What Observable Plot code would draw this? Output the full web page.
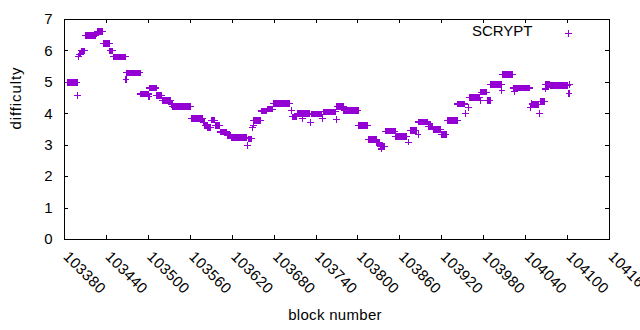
<!DOCTYPE html>
<html><head><meta charset="utf-8">
<script src="https://cdn.jsdelivr.net/npm/d3@7"></script>
<script src="https://cdn.jsdelivr.net/npm/@observablehq/plot@0.6"></script>
<style>body{margin:0;background:#fff}</style>
</head><body><div id="chart"></div>
<script>
// Runs of constant difficulty: first block, last block, difficulty value
const blockStart = [103385,103399,103400,103401,103404,103410,103425,103427,103436,103445,103450,103468,103469,103489,103501,103502,103512,103520,103533,103535,103562,103579,103581,103585,103590,103596,103603,103613,103619,103642,103643,103649,103650,103651,103662,103670,103679,103705,103706,103713,103721,103732,103734,103749,103751,103769,103770,103780,103801,103815,103827,103832,103834,103839,103854,103872,103875,103886,103887,103901,103908,103919,103928,103943,103954,103958,103960,103975,103976,103985,103990,104006,104007,104022,104024,104047,104049,104050,104060,104062,104068,104068,104075,104102,104103];
const blockEnd   = [103398,103399,103400,103403,103409,103424,103426,103435,103444,103449,103467,103468,103488,103500,103501,103511,103519,103532,103534,103560,103578,103580,103584,103589,103595,103602,103612,103618,103641,103642,103648,103649,103650,103661,103669,103678,103702,103705,103712,103731,103721,103732,103748,103749,103768,103769,103779,103800,103814,103826,103831,103838,103834,103853,103870,103872,103883,103886,103900,103907,103918,103926,103942,103953,103954,103958,103974,103975,103984,103989,104005,104006,104021,104046,104024,104047,104049,104059,104060,104067,104074,104068,104100,104102,104103];
const difficulty = [5.0,4.57,5.82,5.9,6.0,6.48,6.54,6.61,6.23,6.0,5.81,5.1,5.3,4.63,4.55,4.82,4.58,4.42,4.3,4.22,3.86,3.73,3.62,3.56,3.8,3.62,3.42,3.32,3.24,2.98,3.2,3.55,3.64,3.78,4.09,4.15,4.33,4.1,3.9,4.02,3.84,3.73,3.99,3.85,4.06,3.81,4.22,4.1,3.62,3.17,3.08,2.96,2.88,3.45,3.27,3.1,3.46,3.34,3.74,3.6,3.5,3.33,3.78,4.31,4.02,4.19,4.51,4.42,4.69,4.42,4.93,4.73,5.25,4.82,4.72,4.19,4.32,4.3,4.0,4.38,4.94,4.79,4.89,4.64,4.93];

const xTicks = [103380,103440,103500,103560,103620,103680,103740,103800,103860,103920,103980,104040,104100,104160];
const yTicks = [0,1,2,3,4,5,6,7];
const seriesName = "SCRYPT";
const xLabel = "block number";
const yLabel = "difficulty";

const points = [];
blockStart.forEach((s, i) => {
  for (let b = s; b <= blockEnd[i]; b++) points.push({block: b, difficulty: difficulty[i]});
});

const color = "#9400d3";
const font = "'Liberation Sans', Arial, sans-serif";

const chart = Plot.plot({
  width: 640, height: 330,
  marginLeft: 64, marginRight: 31, marginTop: 19, marginBottom: 91,
  style: {fontFamily: font, fontSize: "15px", background: "#fff", color: "#000"},
  x: {domain: [103380, 104160], axis: null},
  y: {domain: [0, 7], axis: null},
  marks: [
    Plot.ruleX(xTicks, {x: d => d, insetTop: 216, stroke: "#000", shapeRendering: "crispEdges"}),
    Plot.ruleX(xTicks, {x: d => d, insetBottom: 216, stroke: "#000", shapeRendering: "crispEdges"}),
    Plot.ruleY(yTicks, {y: d => d, insetRight: 541, stroke: "#000", shapeRendering: "crispEdges"}),
    Plot.ruleY(yTicks, {y: d => d, insetLeft: 541, stroke: "#000", shapeRendering: "crispEdges"}),
    Plot.dot(points, {x: "block", y: "difficulty", symbol: "plus", r: 2.33, stroke: color, fill: "none", strokeWidth: 1.1, shapeRendering: "crispEdges"}),
    Plot.frame({stroke: "#000", shapeRendering: "crispEdges"}),
    Plot.text(yTicks, {y: d => d, text: d => String(d), frameAnchor: "left", dx: -12, textAnchor: "end", lineAnchor: "middle"}),
    Plot.text(xTicks, {x: d => d, text: d => String(d), frameAnchor: "bottom", dx: -2, dy: 18, rotate: 45, textAnchor: "start", lineAnchor: "bottom"}),
    Plot.text([xLabel], {text: d => d, frameAnchor: "bottom", dx: -2, dy: 76, lineAnchor: "middle"}),
    Plot.text([yLabel], {text: d => d, frameAnchor: "left", dx: -48, rotate: -90, lineAnchor: "middle"}),
    Plot.text([seriesName], {text: d => d, frameAnchor: "top-right", dx: -77, dy: 12, textAnchor: "end", lineAnchor: "middle"}),
    Plot.dot([seriesName], {frameAnchor: "top-right", dx: -41, dy: 14, symbol: "plus", r: 2.33, stroke: color, fill: "none", strokeWidth: 1.1, shapeRendering: "crispEdges"})
  ]
});
// slight letter spacing to match the reference's wider text rendering
d3.select(chart).selectAll("text").each(function() {
  const t = this.textContent;
  if (t === yLabel) this.style.letterSpacing = "0.9px";
  else if (t === xLabel) this.style.letterSpacing = "0.3px";
  else if (xTicks.map(String).includes(t)) this.style.letterSpacing = "0.4px";
});
document.getElementById("chart").appendChild(chart);
</script>
</body></html>
